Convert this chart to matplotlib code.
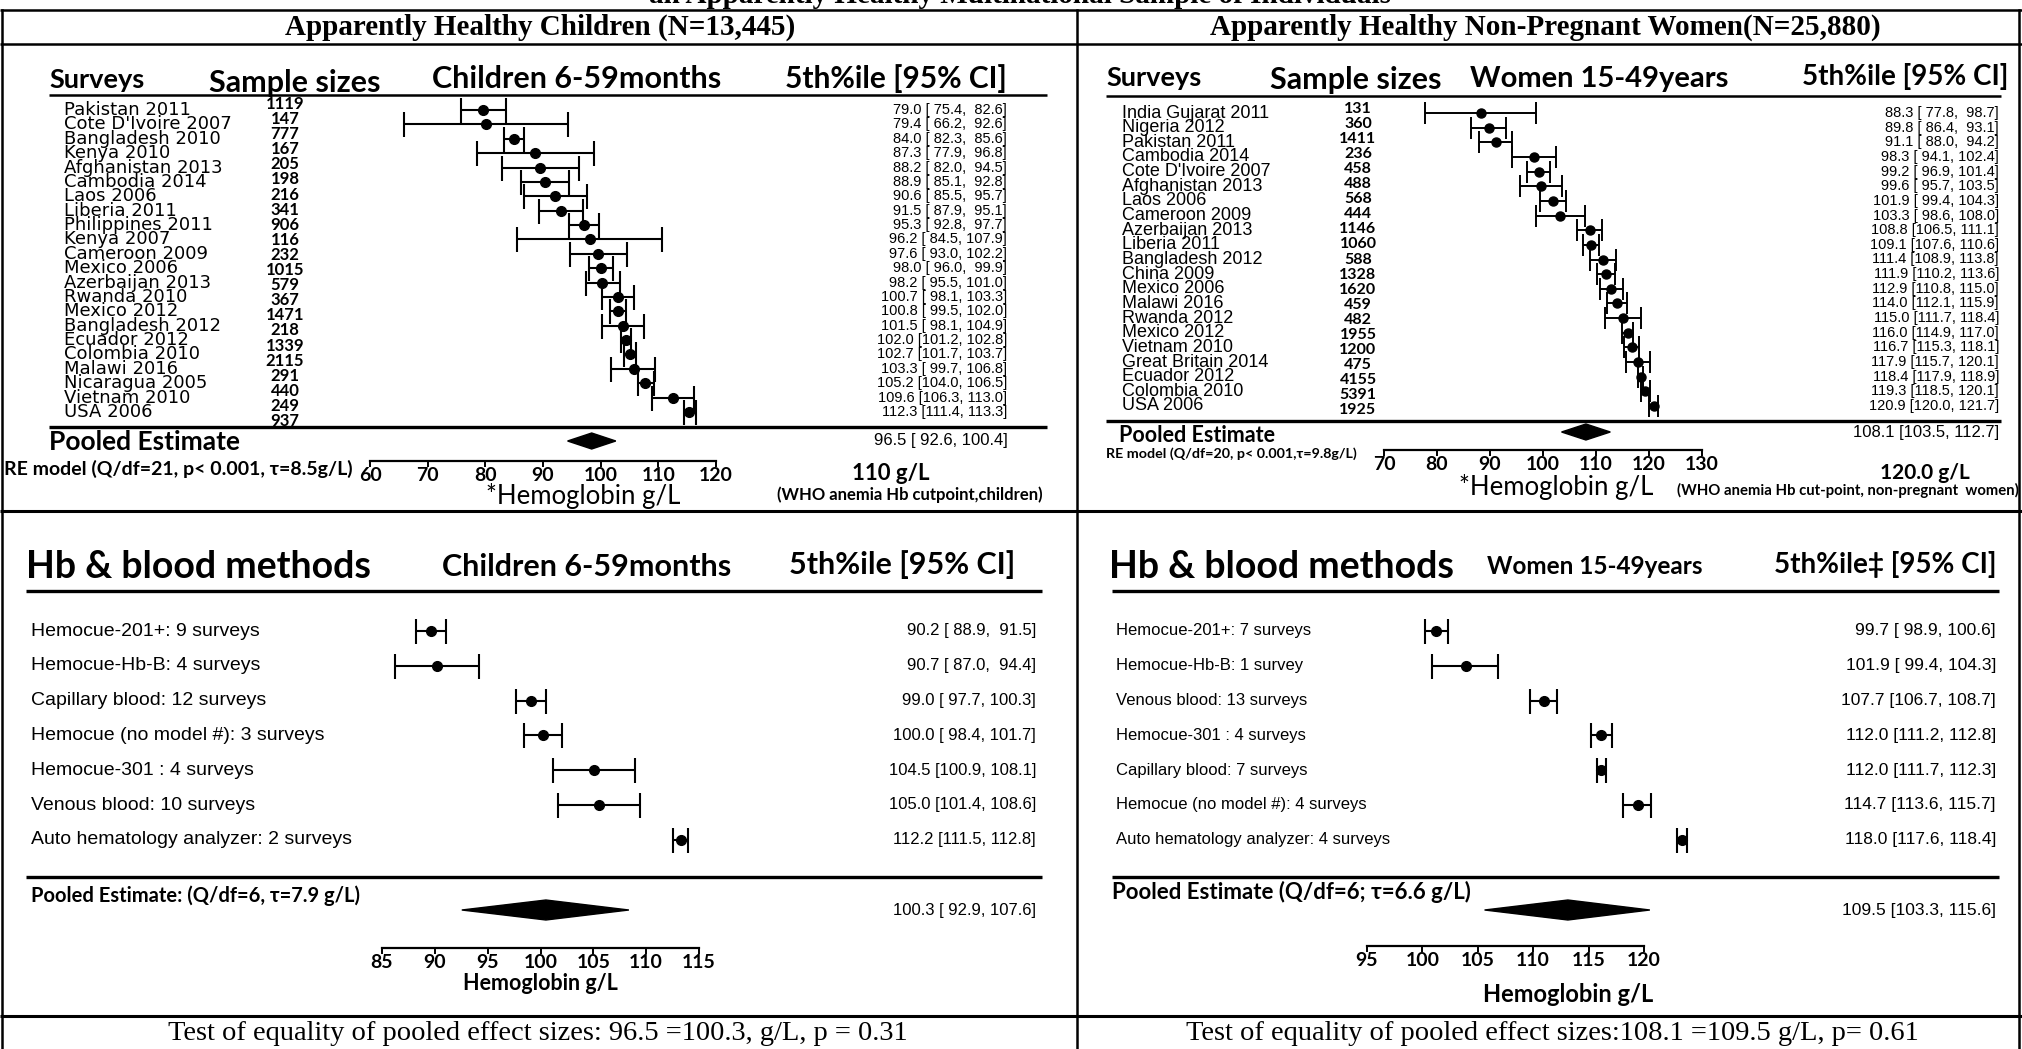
import matplotlib
matplotlib.use("Agg")
import matplotlib.pyplot as plt
from matplotlib.patches import Polygon

# survey-level 5th percentile estimates, children 6-59 months
child_surveys = ["Pakistan 2011", "Cote D'Ivoire 2007", "Bangladesh 2010", "Kenya 2010",
                 "Afghanistan 2013", "Cambodia 2014", "Laos 2006", "Liberia 2011",
                 "Philippines 2011", "Kenya 2007", "Cameroon 2009", "Mexico 2006",
                 "Azerbaijan 2013", "Rwanda 2010", "Mexico 2012", "Bangladesh 2012",
                 "Ecuador 2012", "Colombia 2010", "Malawi 2016", "Nicaragua 2005",
                 "Vietnam 2010", "USA 2006"]
child_n = [1119, 147, 777, 167, 205, 198, 216, 341, 906, 116, 232, 1015, 579, 367,
           1471, 218, 1339, 2115, 291, 440, 249, 937]
child_est = [79.0, 79.4, 84.0, 87.3, 88.2, 88.9, 90.6, 91.5, 95.3, 96.2, 97.6, 98.0,
             98.2, 100.7, 100.8, 101.5, 102.0, 102.7, 103.3, 105.2, 109.6, 112.3]
child_lo = [75.4, 66.2, 82.3, 77.9, 82.0, 85.1, 85.5, 87.9, 92.8, 84.5, 93.0, 96.0,
            95.5, 98.1, 99.5, 98.1, 101.2, 101.7, 99.7, 104.0, 106.3, 111.4]
child_hi = [82.6, 92.6, 85.6, 96.8, 94.5, 92.8, 95.7, 95.1, 97.7, 107.9, 102.2, 99.9,
            101.0, 103.3, 102.0, 104.9, 102.8, 103.7, 106.8, 106.5, 113.0, 113.3]
child_pooled = (96.5, 92.6, 100.4)

# survey-level 5th percentile estimates, non-pregnant women 15-49 years
women_surveys = ["India Gujarat 2011", "Nigeria 2012", "Pakistan 2011", "Cambodia 2014",
                 "Cote D'Ivoire 2007", "Afghanistan 2013", "Laos 2006", "Cameroon 2009",
                 "Azerbaijan 2013", "Liberia 2011", "Bangladesh 2012", "China 2009",
                 "Mexico 2006", "Malawi 2016", "Rwanda 2012", "Mexico 2012",
                 "Vietnam 2010", "Great Britain 2014", "Ecuador 2012", "Colombia 2010",
                 "USA 2006"]
women_n = [131, 360, 1411, 236, 458, 488, 568, 444, 1146, 1060, 588, 1328, 1620, 459,
           482, 1955, 1200, 475, 4155, 5391, 1925]
women_est = [88.3, 89.8, 91.1, 98.3, 99.2, 99.6, 101.9, 103.3, 108.8, 109.1, 111.4,
             111.9, 112.9, 114.0, 115.0, 116.0, 116.7, 117.9, 118.4, 119.3, 120.9]
women_lo = [77.8, 86.4, 88.0, 94.1, 96.9, 95.7, 99.4, 98.6, 106.5, 107.6, 108.9,
            110.2, 110.8, 112.1, 111.7, 114.9, 115.3, 115.7, 117.9, 118.5, 120.0]
women_hi = [98.7, 93.1, 94.2, 102.4, 101.4, 103.5, 104.3, 108.0, 111.1, 110.6, 113.8,
            113.6, 115.0, 115.9, 118.4, 117.0, 118.1, 120.1, 118.9, 120.1, 121.7]
women_pooled = (108.1, 103.5, 112.7)

# pooled by haemoglobin / blood sampling method
child_methods = ["Hemocue-201+: 9 surveys", "Hemocue-Hb-B: 4 surveys",
                 "Capillary blood: 12 surveys", "Hemocue (no model #): 3 surveys",
                 "Hemocue-301 : 4 surveys", "Venous blood: 10 surveys",
                 "Auto hematology analyzer: 2 surveys"]
child_m_est = [90.2, 90.7, 99.0, 100.0, 104.5, 105.0, 112.2]
child_m_lo = [88.9, 87.0, 97.7, 98.4, 100.9, 101.4, 111.5]
child_m_hi = [91.5, 94.4, 100.3, 101.7, 108.1, 108.6, 112.8]
child_m_pooled = (100.3, 92.9, 107.6)

women_methods = ["Hemocue-201+: 7 surveys", "Hemocue-Hb-B: 1 survey",
                 "Venous blood: 13 surveys", "Hemocue-301 : 4 surveys",
                 "Capillary blood: 7 surveys", "Hemocue (no model #): 4 surveys",
                 "Auto hematology analyzer: 4 surveys"]
women_m_est = [99.7, 101.9, 107.7, 112.0, 112.0, 114.7, 118.0]
women_m_lo = [98.9, 99.4, 106.7, 111.2, 111.7, 113.6, 117.6]
women_m_hi = [100.6, 104.3, 108.7, 112.8, 112.3, 115.7, 118.4]
women_m_pooled = (109.5, 103.3, 115.6)

W, H = 2022, 1049
SERIF = "Liberation Serif"
ARIAL = "Liberation Sans"
WIDE = "DejaVu Sans"
CAL = "Lato"

fig = plt.figure(figsize=(W / 100, H / 100), dpi=100)
bg = fig.add_axes([0, 0, 1, 1])
bg.set_xlim(0, W)
bg.set_ylim(H, 0)
bg.axis("off")


def hline(y, x0, x1, lw=1.6):
    bg.plot([x0, x1], [y, y], color="black", lw=lw, solid_capstyle="butt")


def txt(x, y, s, size, family=ARIAL, weight="normal", ha="left", va="center"):
    bg.text(x, y, s, fontsize=size, family=family, fontweight=weight, ha=ha, va=va)


def ci_label(e, l, h):
    return f"{e:.1f} [{l:5.1f}, {h:5.1f}]"


def forest(x0, x1, vmin, vmax, row0, drow, est, lo, hi, pooled, pooled_y, dia_half,
           ms, cap, lw):
    # rows are indexed 0..n-1 and mapped onto the panel's pixel rows
    bottom_px = pooled_y + 20
    ax = fig.add_axes([x0 / W, 1 - bottom_px / H, (x1 - x0) / W,
                       (bottom_px - (row0 - drow)) / H])
    ax.set_xlim(vmin, vmax)
    ax.set_ylim((bottom_px - row0) / drow, -1)
    ax.axis("off")
    rows = list(range(len(est)))
    xerr = [[e - l for e, l in zip(est, lo)], [h - e for e, h in zip(est, hi)]]
    ax.errorbar(est, rows, xerr=xerr, fmt="o", color="black", ms=ms, capsize=cap,
                elinewidth=lw, capthick=lw)
    pe, pl, ph = pooled
    py = (pooled_y - row0) / drow
    dh = dia_half / drow
    ax.add_patch(Polygon([[pl, py], [pe, py - dh], [ph, py], [pe, py + dh]],
                         closed=True, facecolor="black", edgecolor="black"))
    return ax


def ruler(x0, x1, y, ticks, size):
    # horizontal Hb scale drawn under each panel
    ax = fig.add_axes([x0 / W, 1 - y / H, (x1 - x0) / W, 2 / H])
    ax.patch.set_visible(False)
    ax.set_xlim(ticks[0], ticks[-1])
    for side in ("top", "left", "right"):
        ax.spines[side].set_visible(False)
    ax.spines["bottom"].set_linewidth(1.6)
    ax.set_yticks([])
    ax.set_xticks(ticks)
    ax.set_xticklabels([str(t) for t in ticks])
    ax.tick_params(axis="x", direction="out", length=4, width=1.4, pad=0.3)
    for lab in ax.get_xticklabels():
        lab.set_fontfamily(CAL)
        lab.set_fontweight("bold")
        lab.set_fontsize(size)
    return ax


# ---- frame and panel titles ----
txt(1020, 3, "an Apparently Healthy Multinational Sample of Individuals", 21,
    family=SERIF, weight="bold", ha="center", va="baseline")
hline(10, 0, W, lw=1.8)
hline(44, 0, W, lw=1.8)
hline(511, 0, W, lw=2.2)
hline(1016, 0, W, lw=2.2)
for x in (2, 1077, 2019):
    bg.plot([x, x], [10, H], color="black", lw=1.8)
txt(540, 27, "Apparently Healthy Children (N=13,445)", 21, family=SERIF, weight="bold",
    ha="center")
txt(1545, 27, "Apparently Healthy Non-Pregnant Women(N=25,880)", 21, family=SERIF,
    weight="bold", ha="center")
txt(538, 1034, "Test of equality of pooled effect sizes: 96.5 =100.3, g/L, p = 0.31",
    20.5, family=SERIF, ha="center")
txt(1552, 1034, "Test of equality of pooled effect sizes:108.1 =109.5 g/L, p= 0.61",
    20.5, family=SERIF, ha="center")

# ---- top left: children by survey ----
r0, dr = 110, (412 - 110) / 21
txt(49, 80, "Surveys", 19.5, family=CAL, weight="bold")
txt(209, 83, "Sample sizes", 22, family=CAL, weight="bold")
txt(432, 79, "Children 6-59months", 22, family=CAL, weight="bold")
txt(1007, 79, "5th%ile [95% CI]", 21.5, family=CAL, weight="bold", ha="right")
hline(95, 49, 1047, lw=1.8)
for i, name in enumerate(child_surveys):
    txt(64, r0 + i * dr, name, 13, family=WIDE)
    txt(1007, r0 + i * dr, ci_label(child_est[i], child_lo[i], child_hi[i]), 10.5,
        ha="right")
n0, n1 = 104, 421
for i, n in enumerate(child_n):
    txt(285, n0 + i * (n1 - n0) / (len(child_n) - 1), str(n), 12, family=CAL,
        weight="bold", ha="center")
hline(427, 49, 1047, lw=2.4)
forest(366, 737, 60, 120, r0, dr, child_est, child_lo, child_hi, child_pooled, 441, 8,
       7, 9, 1.5)
ruler(370, 716, 461, [60, 70, 80, 90, 100, 110, 120], 14)
txt(49, 442, "Pooled Estimate", 19, family=CAL, weight="bold")
txt(1008, 440, ci_label(*child_pooled), 12, ha="right")
txt(4, 469, "RE model (Q/df=21, p< 0.001, \u03c4=8.5g/L)", 14, family=CAL, weight="bold")
txt(583, 496, "*Hemoglobin g/L", 18.5, family=CAL, ha="center")
txt(891, 474, "110 g/L", 16, family=CAL, weight="bold", ha="center")
txt(910, 495, "(WHO anemia Hb cutpoint,children)", 12, family=CAL, weight="bold",
    ha="center")

# ---- top right: women by survey ----
r0, dr = 113, (406 - 113) / 20
txt(1106, 78, "Surveys", 19.5, family=CAL, weight="bold")
txt(1270, 80, "Sample sizes", 22, family=CAL, weight="bold")
txt(1470, 79, "Women 15-49years", 21, family=CAL, weight="bold")
txt(2008, 76, "5th%ile [95% CI]", 20, family=CAL, weight="bold", ha="right")
hline(96, 1106, 2001, lw=1.8)
for i, name in enumerate(women_surveys):
    txt(1122, r0 + i * dr, name, 13)
    txt(1999, r0 + i * dr, ci_label(women_est[i], women_lo[i], women_hi[i]), 10.5,
        ha="right")
n0, n1 = 109, 410
for i, n in enumerate(women_n):
    txt(1358, n0 + i * (n1 - n0) / (len(women_n) - 1), str(n), 11.5, family=CAL,
        weight="bold", ha="center")
hline(421, 1106, 2001, lw=2.4)
forest(1384, 1702, 70, 130, r0, dr, women_est, women_lo, women_hi, women_pooled, 432,
       8, 6.5, 8, 1.4)
ruler(1384, 1702, 450, [70, 80, 90, 100, 110, 120, 130], 14)
txt(1119, 435, "Pooled Estimate", 15.5, family=CAL, weight="bold")
txt(1999, 432, ci_label(*women_pooled), 12, ha="right")
txt(1106, 454, "RE model (Q/df=20, p< 0.001,\u03c4=9.8g/L)", 10.3, family=CAL,
    weight="bold")
txt(1556, 487, "*Hemoglobin g/L", 18.5, family=CAL, ha="center")
txt(1925, 473, "120.0 g/L", 15, family=CAL, weight="bold", ha="center")
txt(1848, 490, "(WHO anemia Hb cut-point, non-pregnant  women)", 10.7, family=CAL,
    weight="bold", ha="center")

# ---- bottom left: children by method ----
r0, dr = 631, 34.8
txt(26, 567, "Hb & blood methods", 27, family=CAL, weight="bold")
txt(442, 567, "Children 6-59months", 22, family=CAL, weight="bold")
txt(1015, 565, "5th%ile [95% CI]", 22, family=CAL, weight="bold", ha="right")
hline(591, 26, 1042, lw=2.4)
for i, name in enumerate(child_methods):
    txt(31, r0 + i * dr, name, 14)
    txt(1036, r0 + i * dr, ci_label(child_m_est[i], child_m_lo[i], child_m_hi[i]), 12,
        ha="right")
hline(877, 26, 1042, lw=2.4)
forest(372, 713, 85, 115, r0, dr, child_m_est, child_m_lo, child_m_hi, child_m_pooled,
       910, 10, 7, 9, 1.5)
ruler(382, 699, 948, [85, 90, 95, 100, 105, 110, 115], 14)
txt(31, 896, "Pooled Estimate: (Q/df=6, \u03c4=7.9 g/L)", 14.5, family=CAL,
    weight="bold")
txt(1036, 910, ci_label(*child_m_pooled), 12, ha="right")
txt(540, 984, "Hemoglobin g/L", 15.5, family=CAL, weight="bold", ha="center")

# ---- bottom right: women by method ----
txt(1109, 567, "Hb & blood methods", 27, family=CAL, weight="bold")
txt(1487, 566, "Women 15-49years", 17.5, family=CAL, weight="bold")
txt(1996, 565, "5th%ile\u2021 [95% CI]", 20, family=CAL, weight="bold", ha="right")
hline(591, 1112, 1999, lw=2.4)
for i, name in enumerate(women_methods):
    txt(1116, r0 + i * dr, name, 12)
    txt(1996, r0 + i * dr, ci_label(women_m_est[i], women_m_lo[i], women_m_hi[i]), 12.5,
        ha="right")
hline(877, 1112, 1999, lw=2.4)
forest(1373, 1709, 95, 120, r0, dr, women_m_est, women_m_lo, women_m_hi, women_m_pooled,
       910, 10, 7, 9, 1.5)
ruler(1367, 1644, 946, [95, 100, 105, 110, 115, 120], 14)
txt(1112, 892, "Pooled Estimate (Q/df=6; \u03c4=6.6 g/L)", 16, family=CAL,
    weight="bold")
txt(1996, 910, ci_label(*women_m_pooled), 12.5, ha="right")
txt(1568, 994, "Hemoglobin g/L", 17, family=CAL, weight="bold", ha="center")

fig.savefig("out.png", dpi=100)
